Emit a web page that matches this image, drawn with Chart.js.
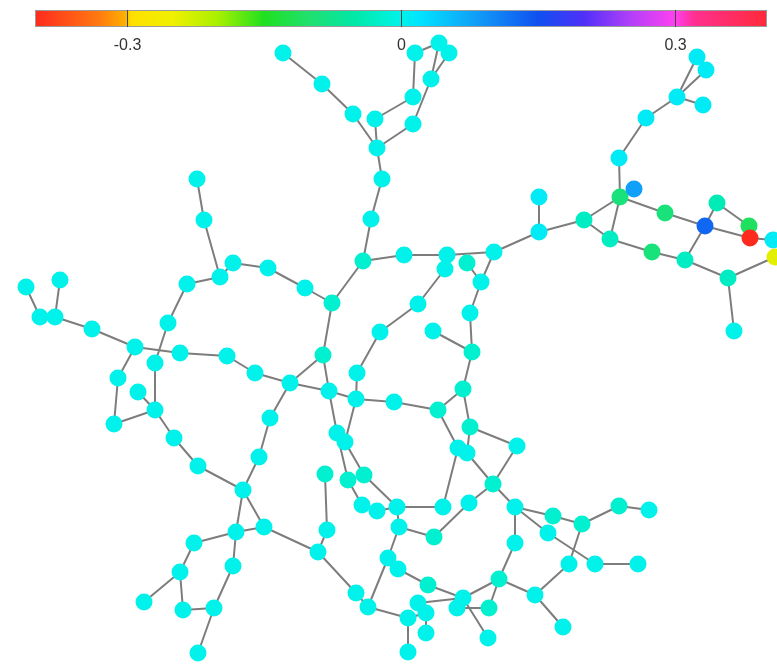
<!DOCTYPE html>
<html><head><meta charset="utf-8">
<script src="https://cdn.jsdelivr.net/npm/chart.js@4"></script>
<style>html,body{margin:0;padding:0;background:#fff}#wrap{width:777px;height:665px;position:relative}</style>
</head><body><div id="wrap"><canvas id="c"></canvas></div>
<script>
// node positions and node values
const nodeX=[283,322,353,375,413,413,431,415,439,449,377,382,371,363,404,447,467,494,445,
539,539,584,620,634,610,619,646,677,697,706,703,665,705,652,685,717,749,750,773,775,728,734,
197,204,220,233,187,168,135,26,60,40,55,92,155,180,227,255,290,118,138,155,114,174,198,243,270,259,
268,305,332,323,329,380,418,357,356,394,438,463,470,517,481,470,472,433,458,467,493,337,345,348,364,325,
362,377,397,399,443,469,434,515,553,548,582,619,649,515,569,595,638,499,535,563,327,318,356,388,398,428,
463,457,489,418,426,408,426,488,408,368,236,264,194,180,144,183,214,233,198];
const nodeY=[53,84,114,119,97,124,79,53,43,53,148,179,219,261,255,255,263,252,269,
197,232,220,197,189,239,158,118,97,57,70,105,213,226,252,260,203,226,238,240,257,278,331,
179,220,277,263,284,323,347,287,280,317,317,329,363,353,356,373,383,378,392,410,424,438,466,490,418,457,
268,288,303,355,391,332,304,373,399,402,410,389,427,446,282,313,352,331,448,453,484,433,442,480,475,474,
505,511,507,527,507,503,537,507,516,533,524,506,510,543,564,564,564,579,595,627,530,552,593,558,569,585,
598,608,608,603,613,618,633,638,652,607,532,527,543,572,602,610,608,566,653];
const nodeValue=[0,0,0,0,0,0,0,0,0,0,0,0,0,-0.02,0,0,-0.02,0,0,
0.01,0.01,-0.03,-0.09,0.08,-0.03,0.01,0.01,0.01,0.01,0.01,0.01,-0.09,0.13,-0.09,-0.03,-0.04,-0.11,-0.4,0.01,-0.24,-0.03,0,
0,0,0,0,0,0,0,0,0,0,0,0,0,0,0,0,0,0,0,0,0,0,0,0,0,0,
0,0,-0.02,-0.02,0,0,0,0,0,0,-0.02,-0.02,-0.02,0,0,0,-0.02,0,0,0,-0.02,0,0,-0.02,-0.02,-0.02,
0,0,0,0,0,0,-0.02,0,-0.02,0,-0.02,-0.02,0,0,0,0,0,-0.02,0,0,0,0,0,0,0,-0.02,
0,0,-0.02,0,0,0,0,0,0,0,0,0,0,0,0,0,0,0,0];
const edges=[[0,1],[1,2],[2,10],[3,10],[3,4],[4,7],[7,8],[8,9],[6,8],[6,9],[6,5],[5,10],[10,11],[11,12],[12,13],
[13,14],[14,15],[15,17],[15,18],[16,82],[17,82],[18,74],[82,83],[83,84],[85,84],[84,79],
[13,70],[70,69],[69,68],[68,45],[45,44],[44,43],[43,42],[44,46],[46,47],[47,54],[48,55],[55,56],[56,57],[57,58],
[58,71],[58,72],[71,72],[70,71],[48,53],[53,52],[52,51],[51,49],[52,50],[48,59],[59,62],[62,61],[60,61],[54,61],
[61,63],[63,64],[64,65],[58,66],[66,67],[67,65],
[74,73],[73,75],[75,76],[76,77],[77,78],[78,79],[72,76],[72,89],[76,90],[79,80],[78,86],[80,81],[81,88],[87,88],
[86,98],[80,87],[89,91],[90,92],[91,94],[92,96],[94,95],[95,96],[96,98],[96,97],[97,100],[100,99],[99,88],[88,101],
[101,102],[102,104],[101,103],[103,109],[104,105],[105,106],[104,108],[108,112],[109,110],[101,107],[107,111],
[111,112],[112,113],[111,120],[120,127],[120,119],[119,118],[97,117],[117,129],[93,114],[114,115],[115,116],
[116,129],[129,125],[123,120],[124,125],[125,128],[124,126],[121,122],[122,111],[121,120],
[131,115],[65,130],[65,131],[130,131],[130,132],[132,133],[133,134],[133,135],[135,136],[130,137],[137,136],[136,138],
[17,20],[19,20],[20,21],[21,22],[21,24],[22,24],[22,25],[25,26],[26,27],[27,28],[27,29],[27,30],[28,29],
[22,31],[31,32],[24,33],[33,34],[34,32],[32,37],[32,35],[35,36],[36,37],[37,38],[34,40],[40,39],[40,41],[23,22]];
// colour scale
const colorMin=-0.4, colorMax=0.4;
const colorTicks=[-0.3,0,0.3];
const colorTickLabels=['-0.3','0','0.3'];
const colorStops=[[-0.40,'#ff2a1e'],[-0.33,'#ff7a10'],[-0.301,'#ffb000'],[-0.295,'#ffe000'],[-0.25,'#f0f000'],
[-0.2,'#a8f000'],[-0.15,'#20e020'],[-0.10,'#20e070'],[-0.05,'#00e8a8'],[-0.02,'#00f0d0'],[0,'#00f2ea'],
[0.02,'#00e4ff'],[0.08,'#10a0f8'],[0.15,'#1050f0'],[0.2,'#5030f8'],[0.25,'#b040f8'],[0.3,'#ff40f0'],
[0.32,'#ff3090'],[0.4,'#ff2a3a']];

function hex2rgb(h){return [parseInt(h.slice(1,3),16),parseInt(h.slice(3,5),16),parseInt(h.slice(5,7),16)];}
function colorFor(v){
  if(v<=colorStops[0][0]) return colorStops[0][1];
  for(let i=1;i<colorStops.length;i++){
    if(v<=colorStops[i][0]){
      const [a,ca]=colorStops[i-1],[b,cb]=colorStops[i];
      const t=(v-a)/(b-a), A=hex2rgb(ca), B=hex2rgb(cb);
      return 'rgb('+A.map((x,k)=>Math.round(x+(B[k]-x)*t)).join(',')+')';
    }
  }
  return colorStops[colorStops.length-1][1];
}

const nodePoints=nodeX.map((x,i)=>({x:x,y:nodeY[i]}));
const edgePoints=[];
edges.forEach(([a,b])=>{edgePoints.push({x:nodeX[a],y:nodeY[a]},{x:nodeX[b],y:nodeY[b]},{x:NaN,y:NaN});});

const colorbarPlugin={id:'colorbar',beforeDatasetsDraw(chart){
  const ctx=chart.ctx, x0=35, x1=767, y0=10, h=17;
  const g=ctx.createLinearGradient(x0,0,x1,0);
  colorStops.forEach(([v,c])=>g.addColorStop((v-colorMin)/(colorMax-colorMin),c));
  ctx.save();
  ctx.fillStyle=g; ctx.fillRect(x0,y0,x1-x0,h);
  ctx.strokeStyle='#9a9a9a'; ctx.lineWidth=1; ctx.strokeRect(x0+0.5,y0+0.5,x1-x0-1,h-1);
  ctx.strokeStyle='#444'; ctx.fillStyle='#333';
  ctx.font='16px "Liberation Sans", Arial, sans-serif'; ctx.textAlign='center'; ctx.textBaseline='middle';
  colorTicks.forEach((v,i)=>{
    const px=Math.round(x0+(v-colorMin)/(colorMax-colorMin)*(x1-x0))+0.5;
    ctx.beginPath(); ctx.moveTo(px,y0); ctx.lineTo(px,y0+h); ctx.stroke();
    ctx.fillText(colorTickLabels[i],px,46);
  });
  ctx.restore();
}};

new Chart(document.getElementById('c'),{
  type:'scatter',
  data:{datasets:[
    {data:edgePoints,showLine:true,spanGaps:false,borderColor:'#7d7d7d',borderWidth:2,pointRadius:0,order:2},
    {data:nodePoints,pointRadius:8.5,pointBorderWidth:0,borderWidth:0,pointBackgroundColor:nodeValue.map(colorFor),backgroundColor:nodeValue.map(colorFor),order:1}
  ]},
  options:{responsive:true,maintainAspectRatio:false,animation:false,
    layout:{padding:0,autoPadding:false},
    scales:{x:{type:'linear',min:0,max:777,display:false},y:{type:'linear',min:0,max:665,reverse:true,display:false}},
    plugins:{legend:{display:false},tooltip:{enabled:false}}},
  plugins:[colorbarPlugin]
});
</script></body></html>
